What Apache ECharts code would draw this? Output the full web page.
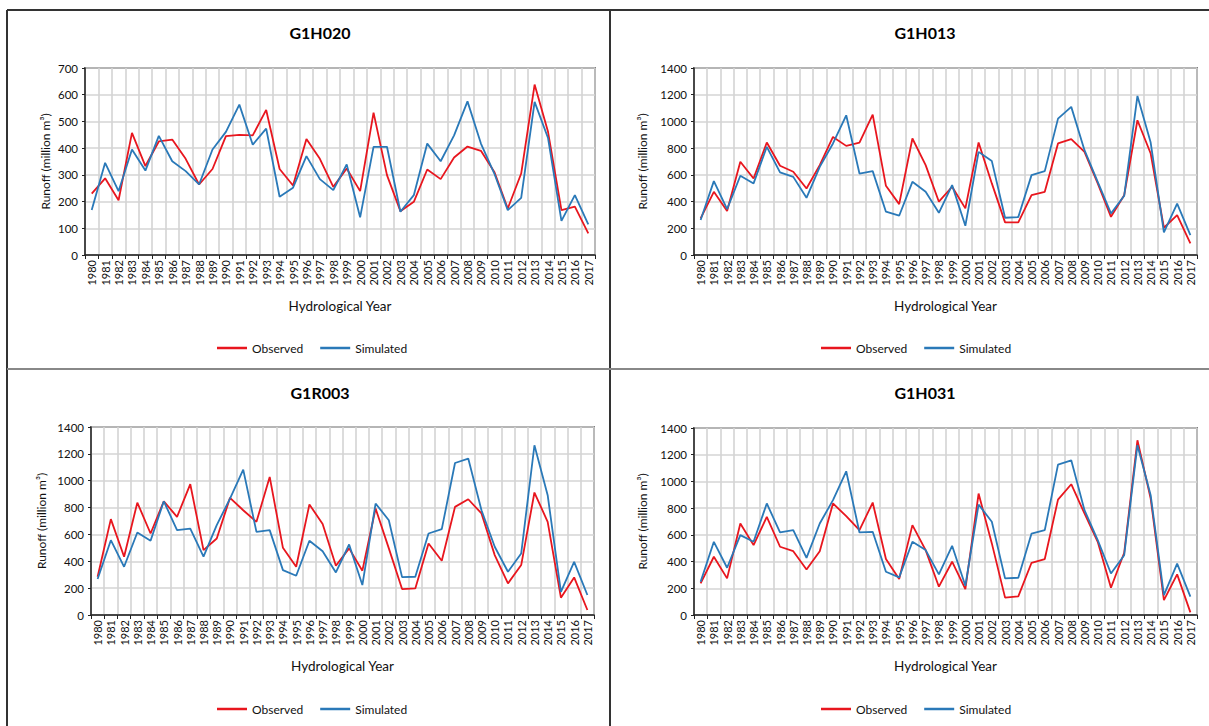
<!DOCTYPE html>
<html><head><meta charset="utf-8">
<script src="https://cdn.jsdelivr.net/npm/echarts@6/dist/echarts.min.js"></script>
<style>html,body{margin:0;padding:0;background:#fff}#c{width:1209px;height:726px}</style>
</head><body><div id="c"></div>
<script>
const years = ['1980','1981','1982','1983','1984','1985','1986','1987','1988','1989','1990','1991','1992','1993','1994','1995','1996','1997','1998','1999','2000','2001','2002','2003','2004','2005','2006','2007','2008','2009','2010','2011','2012','2013','2014','2015','2016','2017'];
const seriesNames = ['Observed', 'Simulated'];
const stationNames = ['G1H020', 'G1H013', 'G1R003', 'G1H031'];
const yAxisTitle = 'Runoff (million m³)';
const xAxisTitle = 'Hydrological Year';

// G1H020
const obsG1H020 = [230,287,205,457,333,425,432,360,264,322,445,450,448,543,322,260,434,360,255,324,239,533,299,164,199,320,284,365,406,390,311,174,305,638,461,168,181,81];
const simG1H020 = [168,345,239,395,316,446,351,314,264,395,461,563,413,473,218,252,370,284,243,339,141,405,405,162,224,417,351,448,575,417,305,168,214,573,438,128,224,115];
// G1H013
const obsG1H013 = [274,473,329,698,573,842,668,623,498,673,884,817,842,1051,518,381,872,673,399,511,349,842,536,244,244,448,473,835,867,772,536,286,448,1009,760,204,299,87];
const simG1H013 = [262,553,344,593,536,810,618,585,428,660,835,1046,610,628,324,294,548,473,316,523,219,772,703,279,284,598,628,1021,1109,785,548,311,443,1191,842,169,384,149];
// G1R003
const obsG1R003 = [285,714,434,837,607,847,731,974,483,570,872,780,694,1028,500,359,823,678,367,496,330,793,496,193,198,533,404,805,862,756,446,235,372,912,694,129,280,37];
const simG1R003 = [268,557,359,614,553,847,632,644,434,669,867,1083,619,632,334,292,553,475,317,525,223,830,706,282,285,607,639,1132,1165,780,508,322,458,1264,892,173,396,149];
// G1H031
const obsG1H031 = [237,436,274,685,523,735,511,478,341,478,835,740,635,842,419,269,673,486,212,399,194,909,536,130,140,391,419,864,979,760,548,204,466,1308,872,112,304,20];
const simG1H031 = [249,548,354,598,548,835,618,635,428,685,860,1076,618,623,324,282,548,486,304,518,219,827,698,274,279,610,635,1126,1158,785,561,311,448,1271,897,149,384,137];

const yMaxes = [700, 1400, 1400, 1400];
const yIntervals = [100, 200, 200, 200];

const obsAll = [obsG1H020, obsG1H013, obsG1R003, obsG1H031];
const simAll = [simG1H020, simG1H013, simG1R003, simG1H031];

// layout (positions only)
const layout = [
  {grid:{left:85, top:68, width:510, height:187}, tx:320, ty:24, lg:{left:212, top:337}, yGap:34, xGap:44},
  {grid:{left:694, top:68, width:503, height:187}, tx:925, ty:24, lg:{left:816, top:337}, yGap:46, xGap:44},
  {grid:{left:91, top:427, width:503, height:188}, tx:320, ty:384, lg:{left:212, top:698}, yGap:44, xGap:44},
  {grid:{left:694, top:428, width:503, height:187}, tx:925, ty:384, lg:{left:816, top:698}, yGap:46, xGap:44}
];

const RED = '#e8161e', BLUE = '#2a79b8';
const FONT = 'Lato, "Open Sans", sans-serif';

const option = {
  animation: false,
  backgroundColor: '#fff',
  textStyle: {fontFamily: FONT},
  title: [], grid: [], xAxis: [], yAxis: [], legend: [], series: [],
  graphic: [
    {type:'line', shape:{x1:7, y1:10, x2:1209, y2:10}, style:{stroke:'#333', lineWidth:2}},
    {type:'line', shape:{x1:7, y1:10, x2:7, y2:726}, style:{stroke:'#333', lineWidth:2}},
    {type:'line', shape:{x1:610, y1:10, x2:610, y2:726}, style:{stroke:'#333', lineWidth:2}},
    {type:'line', shape:{x1:7, y1:369, x2:1209, y2:369}, style:{stroke:'#888', lineWidth:2}}
  ]
};

stationNames.forEach((name, i) => {
  const L = layout[i];
  option.title.push({text: name, left: L.tx, top: L.ty, textAlign: 'center', padding: 0,
    textStyle: {fontSize: 16, fontWeight: 'bold', color: '#000', fontFamily: FONT}});
  option.grid.push(Object.assign({show: true, borderColor: '#222', borderWidth: 1.5, backgroundColor: 'transparent'}, L.grid));
  option.xAxis.push({
    type: 'category', gridIndex: i, data: years, boundaryGap: true,
    axisLine: {lineStyle: {color: '#222', width: 1.5}},
    axisTick: {show: true, length: 4, interval: 0, lineStyle: {color: '#222'}},
    axisLabel: {interval: 0, rotate: 90, fontSize: 11, color: '#111', margin: 5, fontFamily: FONT},
    splitLine: {show: true, interval: 0, lineStyle: {color: '#d4d4d4', width: 1.6}},
    name: xAxisTitle, nameLocation: 'middle', nameGap: L.xGap,
    nameTextStyle: {fontSize: 13.5, color: '#111', fontFamily: FONT}
  });
  option.yAxis.push({
    type: 'value', gridIndex: i, min: 0, max: yMaxes[i], interval: yIntervals[i],
    axisLine: {show: true, lineStyle: {color: '#222', width: 1.5}},
    axisTick: {show: true, length: 3, lineStyle: {color: '#222'}},
    axisLabel: {fontSize: 11.5, color: '#111', margin: 7, fontFamily: FONT, formatter: v => String(v)},
    splitLine: {show: true, lineStyle: {color: '#d4d4d4', width: 1.6}},
    name: yAxisTitle, nameLocation: 'middle', nameGap: L.yGap,
    nameTextStyle: {fontSize: 12, color: '#111', fontFamily: FONT}
  });
  option.legend.push({data: seriesNames, left: L.lg.left, top: L.lg.top, orient: 'horizontal',
    icon: 'rect', itemWidth: 30, itemHeight: 2.5, itemGap: 17, selectedMode: false,
    textStyle: {fontSize: 12, color: '#111', fontFamily: FONT}});
  option.series.push({name: seriesNames[0], type: 'line', xAxisIndex: i, yAxisIndex: i,
    data: obsAll[i], symbol: 'none', lineStyle: {color: RED, width: 1.8}, itemStyle: {color: RED}});
  option.series.push({name: seriesNames[1], type: 'line', xAxisIndex: i, yAxisIndex: i,
    data: simAll[i], symbol: 'none', lineStyle: {color: BLUE, width: 1.8}, itemStyle: {color: BLUE}});
});

const chart = echarts.init(document.getElementById('c'), null, {renderer: 'svg'});
chart.setOption(option);
</script>
</body></html>
